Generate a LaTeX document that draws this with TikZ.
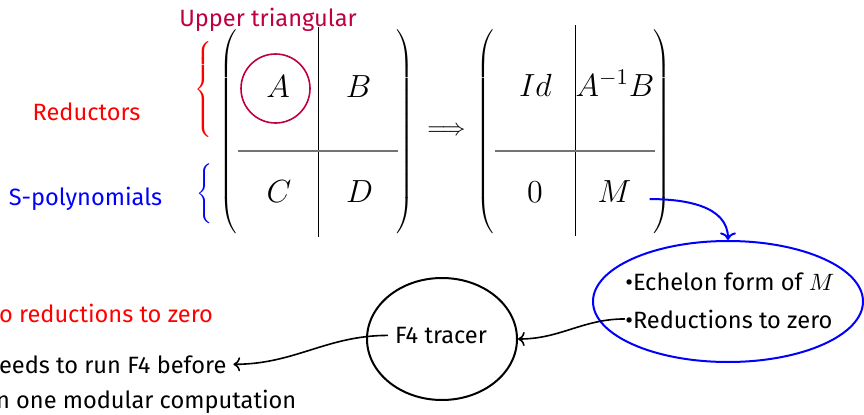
\RequirePackage{fix-cm}
\documentclass[tikz,border=0pt]{standalone}
\usepackage[no-math]{fontspec}
\setmainfont{Fira Sans}
\usetikzlibrary{shapes.geometric,arrows.meta,positioning}

\begin{document}
\begin{tikzpicture}[
    x=0.5pt, y=0.5pt,
    every node/.style={font=\fontsize{11.8}{14}\selectfont},
    entry/.style={font=\fontsize{16}{19}\selectfont, anchor=base, inner sep=0pt},
    paren/.style={font=\fontsize{18}{21}\selectfont, inner sep=0pt},
    brace/.style={font=\fontsize{16}{19}\selectfont, inner sep=0pt},
    bubble/.style={draw, ellipse, line width=1pt, inner sep=0pt},
    ring/.style={draw=purple, circle, line width=0.8pt, inner sep=0pt},
    rulev/.style={black, line width=0.5pt},
    ruleh/.style={black!55, line width=1pt},
    link/.style={->, line width=0.8pt}
]
    \useasboundingbox (0,0) rectangle (864,414);
    \clip (0,0) rectangle (864,414);

    % Labels of the row blocks
    \node[purple, anchor=base] (uppertri) at (268,388) {Upper triangular};
    \node[red, anchor=base] (reductors) at (86.5,294) {Reductors};
    \node[blue, anchor=base] (spoly) at (85.5,209) {S-polynomials};
    \node[brace, red] (bracered) at (205,325) {$\left\{\vcenter{\hrule height 48pt width 0pt}\right.$};
    \node[brace, blue] (braceblue) at (206,220.5) {$\left\{\vcenter{\hrule height 27pt width 0pt}\right.$};

    % Left block matrix
    \node[paren] (lopen) at (229,282) {$\left(\vcenter{\hrule height 104pt width 0pt}\right.$};
    \node[paren] (lclose) at (404,282) {$\left.\vcenter{\hrule height 104pt width 0pt}\right)$};
    \draw[rulev] (318,387) -- (318,177);
    \draw[ruleh] (238,263) -- (398,263);
    \node[entry] (mA) at (278,317) {$A$};
    \node[entry] (mB) at (358.5,317) {$B$};
    \node[entry] (mC) at (279,212) {$C$};
    \node[entry] (mD) at (359.5,212) {$D$};
    \node[ring, minimum size=34.5pt] (ringA) at (275.5,325.5) {};

    \node (implies) at (446.5,283) {$\Longrightarrow$};

    % Right block matrix
    \node[paren] (ropen) at (486,282) {$\left(\vcenter{\hrule height 104pt width 0pt}\right.$};
    \node[paren] (rclose) at (661,282) {$\left.\vcenter{\hrule height 104pt width 0pt}\right)$};
    \draw[rulev] (575,389) -- (575,178);
    \draw[ruleh] (495,263) -- (655,263);
    \node[entry] (mId) at (535.5,318) {$Id$};
    \node[entry] (mAB) at (615,318) {$A^{-1}B$};
    \node[entry] (mZero) at (535,212) {$0$};
    \node[entry] (mM) at (614.5,212) {$M$};

    % Echelon form and the tracer
    \node[bubble, draw=blue, minimum width=135pt, minimum height=60.5pt] (summary) at (728,112.5) {};
    \node[anchor=base west, inner sep=0pt] (lechelon) at (625,123.3) {\textbullet Echelon form of $M$};
    \node[anchor=base west, inner sep=0pt] (lredzero) at (625,86) {\textbullet Reductions to zero};
    \node[bubble, minimum width=75pt, minimum height=61pt] (tracer) at (442,75) {};
    \node (tracertxt) at (441,78.6) {F4 tracer};

    % Remarks on the left (cut by the frame)
    \node[red, anchor=base west] (nozero) at (-8,92) {o reductions to zero};
    \node[anchor=base west] (before) at (-8,41) {eeds to run F4 before};
    \node[anchor=base west] (modular) at (-11,6) {n one modular computation};

    % Connectors
    \coordinate (mout) at ([shift={(9pt,-4pt)}]mM.east);
    \draw[link, blue, line width=1pt] (mout) to[out=0, in=90] (summary.north);
    \draw[link] (lredzero.west) to[out=180, in=0] (tracer.east);
    \draw[link] (tracertxt.west) to[out=180, in=0] (before.east);

\end{tikzpicture}
\end{document}
